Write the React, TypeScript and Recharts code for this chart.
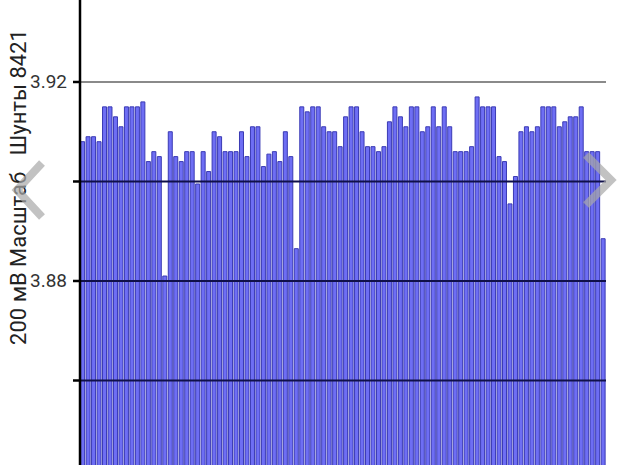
import { BarChart, Bar, XAxis, YAxis, ReferenceLine } from 'recharts';

// one bar per sample
const samples = Array.from({ length: 96 }, (_, i) => String(i + 1));
const voltages = [
  3.908, 3.909, 3.909, 3.908, 3.915, 3.915, 3.913, 3.911, 3.915, 3.915,
  3.915, 3.916, 3.904, 3.906, 3.905, 3.881, 3.910, 3.905, 3.904, 3.906,
  3.906, 3.8995, 3.906, 3.902, 3.910, 3.909, 3.906, 3.906, 3.906, 3.910,
  3.905, 3.911, 3.911, 3.903, 3.9055, 3.906, 3.904, 3.910, 3.905, 3.8865,
  3.915, 3.914, 3.915, 3.915, 3.911, 3.910, 3.910, 3.907, 3.913, 3.915,
  3.915, 3.910, 3.907, 3.907, 3.906, 3.907, 3.912, 3.915, 3.913, 3.911,
  3.915, 3.915, 3.910, 3.911, 3.915, 3.911, 3.915, 3.911, 3.906, 3.906,
  3.906, 3.907, 3.917, 3.915, 3.915, 3.915, 3.905, 3.904, 3.8955, 3.901,
  3.910, 3.911, 3.910, 3.911, 3.915, 3.915, 3.915, 3.911, 3.912, 3.913,
  3.913, 3.915, 3.906, 3.906, 3.906, 3.8885,
];

const tickValues = [3.86, 3.88, 3.9, 3.92];
const tickLabels = ['', '3.88', '', '3.92'];
const darkLines = [3.86, 3.88, 3.9];
const axisTitle = '200 мВ Масштаб   Шунты 8421';

const data = samples.map((s, i) => ({ name: s, v: voltages[i] }));

const font = 'Roboto, sans-serif';
const AXIS_X = 80;

function labelFor(v: number) {
  const i = tickValues.findIndex((t) => Math.abs(t - v) < 1e-6);
  return i >= 0 ? tickLabels[i] : '';
}

function Tick({ y, payload }: any) {
  return (
    <g>
      <line x1={AXIS_X - 7} x2={AXIS_X} y1={y} y2={y} stroke="#000" strokeWidth={2.5} />
      <text
        x={AXIS_X - 13}
        y={y}
        textAnchor="end"
        dominantBaseline="central"
        fontSize={19}
        fill="#333"
        fontFamily={font}
      >
        {labelFor(payload.value)}
      </text>
    </g>
  );
}

function AxisTitle({ viewBox }: any) {
  const x = (viewBox?.x ?? 0) + 18;
  const y = 187;
  return (
    <text
      x={x}
      y={y}
      transform={`rotate(-90, ${x}, ${y})`}
      textAnchor="middle"
      dominantBaseline="central"
      fill="#222"
      fontSize={22}
      fontFamily={font}
      style={{ whiteSpace: 'pre' }}
    >
      {axisTitle}
    </text>
  );
}

export default function App() {
  return (
    <div style={{ position: 'absolute', left: 0, top: 0, width: 620, height: 465, overflow: 'hidden', background: '#fff' }}>
      <BarChart
        width={620}
        height={580}
        data={data}
        margin={{ top: 0, right: 14, bottom: 0, left: 0 }}
        barCategoryGap={0.6}
      >
        <XAxis dataKey="name" hide />
        <YAxis
          type="number"
          domain={[3.8199, 3.93648]}
          allowDataOverflow
          ticks={tickValues}
          interval={0}
          width={AXIS_X}
          tickLine={false}
          tick={<Tick />}
          axisLine={{ stroke: '#000', strokeWidth: 2.5 }}
          label={<AxisTitle />}
        />
        <ReferenceLine y={3.92} stroke="#8a8a8a" strokeWidth={2} />
        <Bar dataKey="v" fill="#6e6ef4" stroke="#3a3ab4" strokeWidth={1} isAnimationActive={false} />
        {darkLines.map((y) => (
          <ReferenceLine key={y} y={y} stroke="#10104a" strokeWidth={2} />
        ))}
      </BarChart>
      <svg
        width={620}
        height={465}
        style={{ position: 'absolute', left: 0, top: 0, pointerEvents: 'none' }}
      >
        <polyline points="42,163 17,190 42,217" fill="none" stroke="#a8a8a8" strokeOpacity={0.7} strokeWidth={8} />
        <polyline points="586,155 611,180 586,205" fill="none" stroke="#a8a8a8" strokeOpacity={0.7} strokeWidth={8} />
      </svg>
    </div>
  );
}
